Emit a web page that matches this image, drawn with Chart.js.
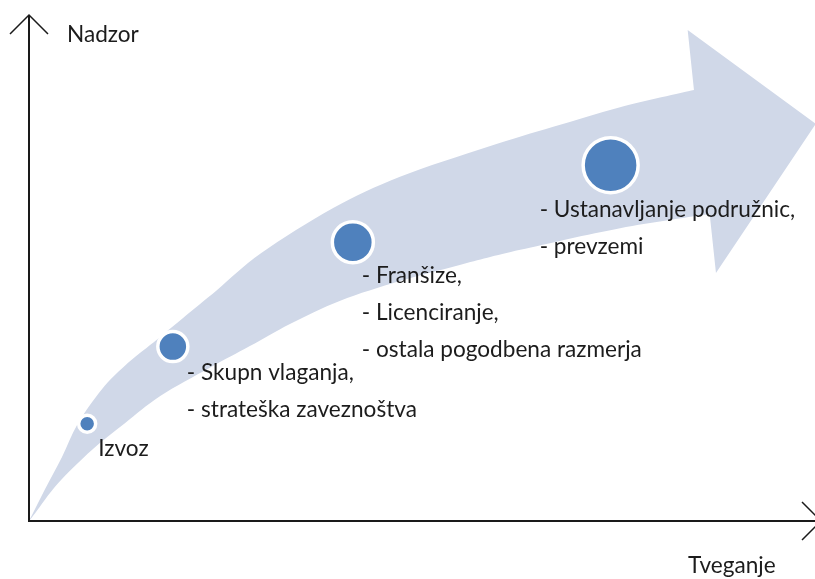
<!DOCTYPE html>
<html>
<head>
<meta charset="utf-8">
<title>Nadzor / Tveganje</title>
<script src="https://cdn.jsdelivr.net/npm/chart.js@4.4.1/dist/chart.umd.min.js"></script>
<style>
  html, body { margin: 0; padding: 0; background: #ffffff; }
  #wrap { width: 815px; height: 579px; }
</style>
</head>
<body>
<div id="wrap"><canvas id="myChart" width="815" height="579"></canvas></div>
<script>
// Start Data
const stages = ['Izvoz', 'Skupna vlaganja', 'Franšize', 'Podružnice'];
const riskValues = [7.4, 18.3, 41.2, 74.0];      // Tveganje (x)
const controlValues = [19.3, 34.6, 55.3, 70.6];  // Nadzor (y)
const bubbleSizes = [8.5, 15, 20.5, 27.5];
const stageLabels = [
  ['Izvoz'],
  ['- Skupn vlaganja,', '- strateška zaveznoštva'],
  ['- Franšize,', '- Licenciranje,', '- ostala pogodbena razmerja'],
  ['- Ustanavljanje podružnic,', '- prevzemi']
];
const xTitle = 'Tveganje';
const yTitle = 'Nadzor';

// outline of the big curved arrow (axis units)
const arrowTop = [[0, 0], [2.0, 6.2], [4.2, 12.7], [6.2, 19.3], [9.3, 26.2], [12.2, 30.8],
  [15.4, 34.9], [19.6, 40.3], [23.9, 45.8], [29.6, 53.2], [38.7, 62.1], [47.2, 68.3],
  [58.3, 74.2], [66.7, 78.2], [75.2, 82.1], [84.6, 85.5]];
const arrowHead = [[83.8, 97.4], [100.1, 78.8], [87.4, 49.2]];
const arrowBottom = [[86.6, 60.9], [75.2, 58.1], [62.5, 53.8], [54.8, 50.8], [47.2, 47.6],
  [39.6, 43.7], [33.2, 39.1], [28.1, 34.7], [23.0, 30.4], [16.7, 24.8], [12.2, 19.4],
  [8.0, 14.1], [3.7, 7.5], [0.8, 1.6], [0, 0]];
// End Data

const labelOffsets = [[11, 32], [14, 33], [9, 41], [-71, 52]];
const lineGap = 37;
const textFont = '22.6px Lato';
const textColor = '#1c1c1c';

// smooth curve through points (catmull-rom)
function smoothPath(ctx, pts, first) {
  if (first) ctx.moveTo(pts[0][0], pts[0][1]);
  else ctx.lineTo(pts[0][0], pts[0][1]);
  for (let i = 0; i < pts.length - 1; i++) {
    const p0 = pts[i - 1] || pts[i];
    const p1 = pts[i];
    const p2 = pts[i + 1];
    const p3 = pts[i + 2] || p2;
    ctx.bezierCurveTo(
      p1[0] + (p2[0] - p0[0]) / 6, p1[1] + (p2[1] - p0[1]) / 6,
      p2[0] - (p3[0] - p1[0]) / 6, p2[1] - (p3[1] - p1[1]) / 6,
      p2[0], p2[1]);
  }
}

const bigArrow = {
  id: 'bigArrow',
  beforeDatasetsDraw(chart) {
    const ctx = chart.ctx;
    const xs = chart.scales.x, ys = chart.scales.y;
    const px = p => [xs.getPixelForValue(p[0]), ys.getPixelForValue(p[1])];
    ctx.save();
    ctx.beginPath();
    smoothPath(ctx, arrowTop.map(px), true);
    arrowHead.map(px).forEach(p => ctx.lineTo(p[0], p[1]));
    smoothPath(ctx, arrowBottom.map(px), false);
    ctx.closePath();
    ctx.fillStyle = '#d0d8e8';
    ctx.fill();
    ctx.restore();
  }
};

const textAndAxes = {
  id: 'textAndAxes',
  afterDatasetsDraw(chart) {
    const ctx = chart.ctx;
    const xs = chart.scales.x, ys = chart.scales.y;
    const a = chart.chartArea;
    ctx.save();
    // axes with open arrow heads
    ctx.strokeStyle = '#1a1a1a';
    ctx.lineWidth = 2;
    ctx.beginPath();
    ctx.moveTo(a.left, a.top - 2);
    ctx.lineTo(a.left, a.bottom);
    ctx.lineTo(a.right + 6, a.bottom);
    ctx.stroke();
    ctx.lineWidth = 1.5;
    ctx.beginPath();
    ctx.moveTo(a.left - 19, a.top + 17);
    ctx.lineTo(a.left, a.top - 2);
    ctx.lineTo(a.left + 19, a.top + 17);
    ctx.moveTo(a.right - 13, a.bottom - 19);
    ctx.lineTo(a.right + 6, a.bottom);
    ctx.lineTo(a.right - 13, a.bottom + 19);
    ctx.stroke();

    // texts
    ctx.font = textFont;
    ctx.fillStyle = textColor;
    ctx.textAlign = 'left';
    ctx.textBaseline = 'alphabetic';
    ctx.fillText(yTitle, a.left + 38, 42);
    ctx.fillText(xTitle, 688, 573);
    stageLabels.forEach((lines, i) => {
      const bx = xs.getPixelForValue(riskValues[i]);
      const by = ys.getPixelForValue(controlValues[i]);
      lines.forEach((t, j) => {
        ctx.fillText(t, bx + labelOffsets[i][0], by + labelOffsets[i][1] + j * lineGap);
      });
    });
    ctx.restore();
  }
};

const ctx = document.getElementById('myChart');

new Chart(ctx, {
  type: 'bubble',
  data: {
    labels: stages,
    datasets: [{
      data: stages.map((s, i) => ({ x: riskValues[i], y: controlValues[i], r: bubbleSizes[i] })),
      backgroundColor: '#4f81bd',
      borderColor: '#ffffff',
      borderWidth: 3.5,
      clip: false
    }]
  },
  options: {
    responsive: false,
    animation: false,
    events: [],
    layout: { autoPadding: false, padding: { left: 29, right: 0, top: 17, bottom: 58 } },
    scales: {
      x: { display: false, min: 0, max: 100 },
      y: { display: false, min: 0, max: 100 }
    },
    plugins: {
      legend: { display: false },
      tooltip: { enabled: false }
    }
  },
  plugins: [bigArrow, textAndAxes]
});
</script>
</body>
</html>
